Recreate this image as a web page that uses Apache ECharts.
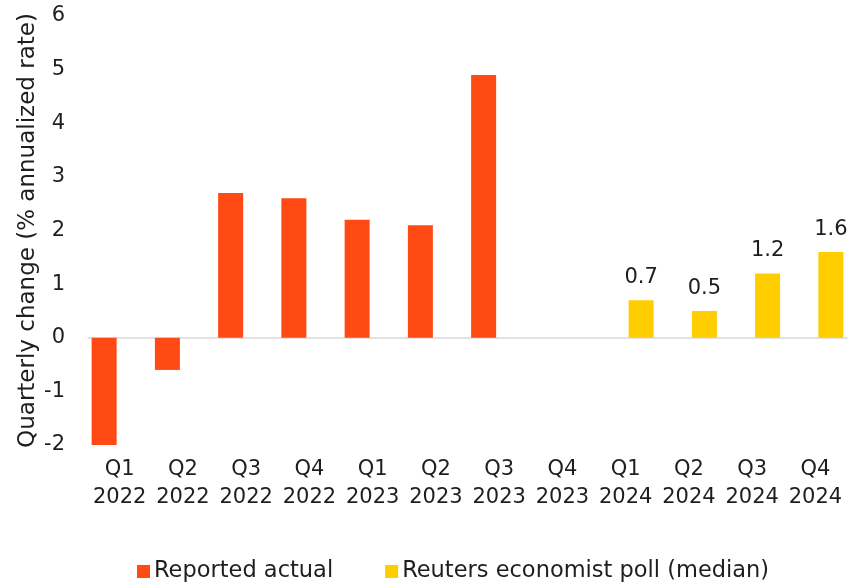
<!DOCTYPE html>
<html>
<head>
<meta charset="utf-8">
<script src="https://cdn.jsdelivr.net/npm/echarts@6/dist/echarts.min.js"></script>
<style>html,body{margin:0;padding:0;background:#fff}#c{width:863px;height:584px}</style>
</head>
<body>
<div id="c"></div>
<script>
var categories = ['Q1\n2022','Q2\n2022','Q3\n2022','Q4\n2022','Q1\n2023','Q2\n2023','Q3\n2023','Q4\n2023','Q1\n2024','Q2\n2024','Q3\n2024','Q4\n2024'];
var reportedActual = [-2.0, -0.6, 2.7, 2.6, 2.2, 2.1, 4.9, null, null, null, null, null];
var reutersPoll = [null, null, null, null, null, null, null, null, 0.7, 0.5, 1.2, 1.6];
var seriesNames = ['Reported actual', 'Reuters economist poll (median)'];
var yAxisTitle = 'Quarterly change (% annualized rate)';

var FONT = 'DejaVu Sans';
var TXT = '#1e1e1e';
var chart = echarts.init(document.getElementById('c'));
chart.setOption({
  animation: false,
  textStyle: { fontFamily: FONT },
  grid: { left: 88, right: 16, top: 16, bottom: 139, containLabel: false },
  legend: {
    top: 555,
    left: 132,
    itemWidth: 13,
    itemHeight: 13,
    itemGap: 52,
    icon: 'rect',
    textStyle: { fontFamily: FONT, fontSize: 22.5, color: TXT, padding: [0, 0, 0, -1] },
    data: seriesNames
  },
  xAxis: [{
    type: 'category',
    data: categories,
    position: 'bottom',
    axisLine: { show: false, onZero: false },
    axisTick: { show: false },
    axisLabel: { fontFamily: FONT, fontSize: 21, color: TXT, lineHeight: 28, margin: 11, interval: 0 }
  }, {
    type: 'category',
    data: categories,
    position: 'top',
    axisLine: { show: true, onZero: true, lineStyle: { color: '#d9d9d9', width: 1.5 } },
    axisTick: { show: false },
    axisLabel: { show: false }
  }],
  yAxis: {
    type: 'value',
    min: -2,
    max: 6,
    interval: 1,
    name: yAxisTitle,
    nameLocation: 'middle',
    nameGap: 48,
    nameMoveOverlap: false,
    nameTextStyle: { fontFamily: FONT, fontSize: 23, color: TXT },
    axisLine: { show: false },
    axisTick: { show: false },
    splitLine: { show: false },
    axisLabel: { fontFamily: FONT, fontSize: 21, color: TXT, margin: 23 }
  },
  series: [{
    name: seriesNames[0],
    type: 'bar',
    data: reportedActual,
    barWidth: 25,
    barGap: '24%',
    itemStyle: { color: '#FF4A14' }
  }, {
    name: seriesNames[1],
    type: 'bar',
    data: reutersPoll,
    barWidth: 25,
    barGap: '24%',
    itemStyle: { color: '#FFCD00' },
    label: { show: true, position: 'top', distance: 12, fontFamily: FONT, fontSize: 21, color: TXT }
  }]
});
</script>
</body>
</html>
